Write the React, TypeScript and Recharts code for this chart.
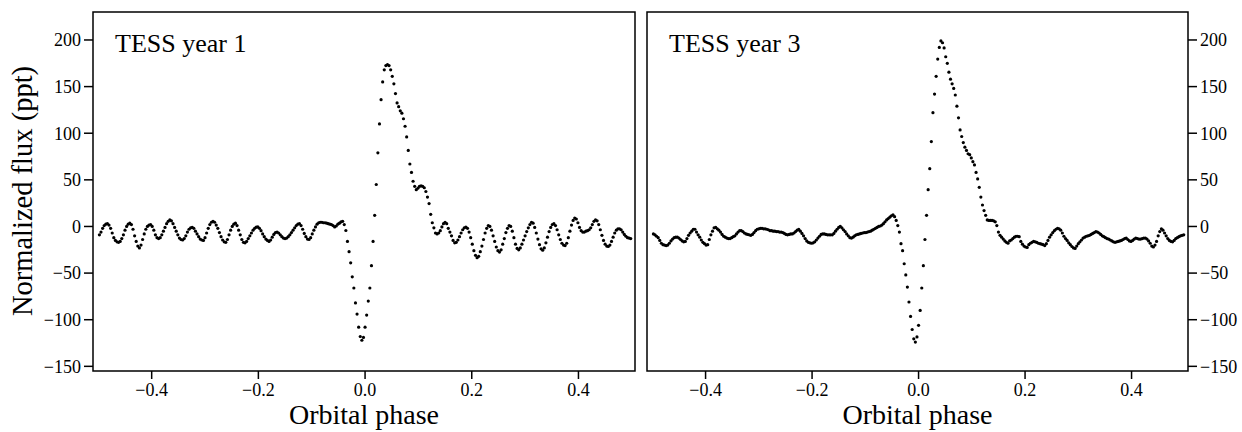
import { ScatterChart, Scatter, XAxis, YAxis, ReferenceArea, Label } from 'recharts'

// phase-folded light curve, bins of 0.003 in orbital phase
const PHASE_START = -0.498
const PHASE_STEP = 0.003

const YEAR1_FLUX = [
  -9, -6, -2, 1, 2.5, 3, 1.5, -2, -7, -12,
  -15, -16.5, -17, -16, -13, -9, -4, 0, 2.5, 3.5,
  2, -3, -10, -16, -21, -23, -20, -14, -8, -3,
  0, 1.5, 2, 0, -4, -9, -12, -13, -12, -9,
  -5, -1, 3, 5.5, 7, 6, 3, -1, -5, -9,
  -12.5, -14, -14.5, -13, -10, -6, -3, -1.5, -1, -2,
  -5, -8, -11, -13.5, -14.5, -15, -12, -7, -2, 2,
  4.5, 5.5, 4.5, 1.5, -2, -6.5, -11, -14.5, -16.5, -17,
  -14, -9, -4, 0, 2.5, 3.5, 1, -4, -9, -14,
  -17, -17.5, -16, -13, -10, -7, -4, -2, -0.8, -0.5,
  -2, -4.5, -8, -11, -13.5, -15, -16, -14.5, -11.5, -8.5,
  -6.5, -6, -7, -9, -11, -12.5, -13, -12.5, -11, -9,
  -6.5, -4, -1.5, 1, 2.5, 3, 1, -3, -7.5, -11,
  -13.5, -14, -12, -8, -4, -0.5, 2.5, 4, 4.5, 4.5,
  4, 4, 3.5, 3, 2.5, 2, 1, -0.5, 0.5, 2.5,
  3.5, 5, 5.5, 2, -4.3, -16, -27, -39, -54, -66,
  -82, -94, -108, -118, -122, -119, -108, -95, -80, -66,
  -42, -16, 12, 45, 79, 110, 136, 155, 168, 172.5,
  173.5, 172.5, 168, 161, 153, 142.5, 132.5, 128.5, 124, 121.5,
  115.5, 107.5, 96, 81.5, 67, 58, 48.5, 43, 39.5, 41,
  43, 43.5, 43, 41.5, 37.5, 31.5, 24.5, 13, 4, -1.5,
  -7, -8, -7, -4.5, -0.5, 3, 4.5, 3, -2, -6,
  -10, -15, -17.5, -17, -14.5, -11, -7, -3.5, -1.5, -0.7,
  -2, -6, -12, -19, -26, -31, -33.5, -32, -27, -21,
  -14, -7, -2, 1, 0, -4, -10, -16, -22, -26,
  -27.5, -25, -19, -13, -6.5, -2, 1, 0, -5, -12,
  -19, -23.5, -25, -23, -19, -14.5, -10, -5.5, -1.5, 2,
  4.5, 3.5, -1, -7, -13.5, -19.5, -24, -25.5, -23, -17.5,
  -11.5, -5.5, -1, 2, 3, 1, -3.5, -9, -14, -18,
  -20, -20.5, -18, -12, -5, 1.5, 6.5, 9, 8, 4,
  -1, -4.5, -6, -6, -5, -4.5, -3.5, -1.5, 2, 5.5,
  7, 6, 2, -3.5, -9.5, -15, -19, -21, -21.5, -20,
  -16, -11.5, -7, -4, -2.5, -2.5, -3.5, -6, -8.5, -10.5,
  -12, -12.5, -13,
]

const YEAR3_FLUX = [
  -8, -9, -10.5, -12, -15, -18, -19.5, -20, -20.5, -20,
  -18, -15.5, -13.5, -12, -11.5, -11.5, -12.5, -14, -15.5, -16.5,
  -16, -13, -9.5, -7, -5, -3, -3, -6, -9, -11.5,
  -14.5, -17, -18.5, -20, -19.5, -14, -9, -5, -1.5, -1,
  -2.5, -4, -6, -8.5, -10.5, -11.5, -12.5, -13, -13, -12,
  -11, -10, -8, -6, -4.5, -4.5, -5.5, -7, -8, -8.5,
  -9, -9.5, -8.5, -6.5, -4.5, -3, -2.5, -2, -2, -2.5,
  -2.5, -3, -3.5, -4.5, -4.5, -5, -5, -5.5, -5.5, -6,
  -6, -6.5, -7.5, -8.5, -9, -8.5, -8, -8, -7, -5.5,
  -4, -3.2, -5, -7.5, -10, -13, -15.5, -17, -17.5, -18,
  -17.5, -16.5, -14.5, -12.5, -10.5, -8.5, -8, -8, -8.5, -9,
  -9, -9, -9, -7.5, -5, -3, -1, 0, -1.5, -3.5,
  -5.5, -8, -10, -12, -12.5, -11.5, -10, -9, -8.5, -8,
  -7.5, -7, -6.5, -6.5, -6, -5.5, -5, -4, -3, -2,
  -1, 0, 0.5, 1.5, 3, 5, 7, 8.5, 10, 11.5,
  12.5, 10.5, 6.5, 1, -6, -18.5, -26, -40, -52, -65,
  -81, -96.5, -110.5, -120.5, -124, -118.5, -106, -90, -66, -42,
  -14, 12, 39.5, 62, 91, 122, 142, 161, 179.5, 192,
  199, 197, 191.5, 182, 175, 165.5, 158, 153, 148, 141,
  129, 116.5, 103.5, 96.5, 90, 85, 81.5, 78, 77, 73.5,
  69.5, 66, 58, 51, 42, 31.5, 23, 17, 12, 7,
  6.5, 6.5, 6.5, 6, 5, 1, -6, -9.5, -11.5, -13.5,
  -15.5, -17, -18, -15.5, -14.5, -13, -11.5, -10.5, -10.5, -11,
  -16, -19, -21, -22, -22.5, -19.5, -18, -17, -16, -16.5,
  -17, -18, -18.5, -19, -19.5, -20.5, -18.5, -15, -11.5, -9,
  -6.5, -4.5, -3, -2, -2.5, -4, -7, -10.5, -13, -15,
  -17.5, -19.5, -21.5, -23, -23.5, -21, -18.5, -16.5, -14.5, -12.5,
  -11.5, -10.5, -10, -9.5, -8.5, -7.5, -6.5, -5.5, -6, -7,
  -8.5, -10, -11, -12, -13, -13.5, -14.5, -15.5, -16.5, -17,
  -16.5, -16, -15.5, -15, -14, -13, -12.5, -14, -15.5, -16,
  -15, -13.5, -12.5, -13, -13.5, -13.5, -13, -12.5, -12.5, -13.5,
  -15.5, -18, -21, -22, -20, -16, -10, -5.5, -2.5, -4,
  -7, -10, -13, -15, -16, -16.5, -15, -13, -12, -11,
  -10, -9.5, -9,
]

const X_TICKS = [-0.4, -0.2, 0, 0.2, 0.4]
const Y_TICKS = [-150, -100, -50, 0, 50, 100, 150, 200]
const X_DOMAIN: [number, number] = [-0.51, 0.506]
const Y_DOMAIN: [number, number] = [-155, 230]

const FONT = '"Liberation Serif", "Times New Roman", serif'

const toPoints = (flux: number[]) =>
  flux.map((y, i) => ({ x: PHASE_START + i * PHASE_STEP, y }))

const minus = (s: string) => s.replace('-', '\u2212')
const fmtX = (v: number) => minus(v.toFixed(1))
const fmtY = (v: number) => minus(String(v))

// eslint-disable-next-line @typescript-eslint/no-explicit-any
function Dot(props: any) {
  return <circle cx={props.cx} cy={props.cy} r={1.6} fill="#000" />
}

// eslint-disable-next-line @typescript-eslint/no-explicit-any
function XTick({ x, y, payload }: any) {
  return (
    <text x={x} y={y} dy="0.71em" textAnchor="middle" fontSize={18} fontFamily={FONT} fill="#000">
      {fmtX(payload.value)}
    </text>
  )
}

// eslint-disable-next-line @typescript-eslint/no-explicit-any
function YTick({ x, y, payload, textAnchor }: any) {
  return (
    <text x={x} y={y} dy="0.355em" textAnchor={textAnchor} fontSize={18} fontFamily={FONT} fill="#000">
      {fmtY(payload.value)}
    </text>
  )
}

function YTitle() {
  return (
    <text
      x={32}
      y={191}
      transform="rotate(-90 32 191)"
      textAnchor="middle"
      fontSize={28.5}
      fontFamily={FONT}
      fill="#000"
    >
      Normalized flux (ppt)
    </text>
  )
}

const tickLine = { stroke: '#000', strokeWidth: 1.5 }

function Panel({ flux, title, side }: { flux: number[]; title: string; side: 'left' | 'right' }) {
  const isLeft = side === 'left'
  return (
    <ScatterChart
      width={isLeft ? 640 : 602}
      height={432}
      margin={isLeft ? { top: 12, right: 5, bottom: 0, left: 0 } : { top: 12, right: 0, bottom: 0, left: 7 }}
    >
      <XAxis
        type="number"
        dataKey="x"
        domain={X_DOMAIN}
        ticks={X_TICKS}
        allowDataOverflow
        height={61}
        axisLine={false}
        tickLine={tickLine}
        tickSize={8}
        tickMargin={4}
        tick={XTick}
        interval={0}
        label={{ value: 'Orbital phase', position: 'insideBottom', offset: 8, fontSize: 28, fontFamily: FONT, fill: '#000' }}
      />
      <YAxis
        type="number"
        dataKey="y"
        orientation={side}
        domain={Y_DOMAIN}
        ticks={Y_TICKS}
        allowDataOverflow
        width={isLeft ? 93 : 54}
        axisLine={false}
        tickLine={tickLine}
        tickSize={9}
        tickMargin={3}
        tick={YTick}
        interval={0}
        label={isLeft ? <Label content={YTitle} /> : undefined}
      />
      <ReferenceArea
        x1={X_DOMAIN[0]}
        x2={X_DOMAIN[1]}
        y1={Y_DOMAIN[0]}
        y2={Y_DOMAIN[1]}
        fill="none"
        fillOpacity={0}
        stroke="#000"
        strokeWidth={1.5}
        label={{ value: title, position: 'insideTopLeft', offset: 22, fontSize: 26, fontFamily: FONT, fill: '#000' }}
      />
      <Scatter data={toPoints(flux)} shape={Dot} isAnimationActive={false} />
    </ScatterChart>
  )
}

export default function App() {
  return (
    <div style={{ position: 'absolute', left: 0, top: 0, width: 1242, height: 432, background: '#fff', overflow: 'hidden', fontFamily: FONT }}>
      <div style={{ position: 'absolute', left: 0, top: 0 }}>
        <Panel flux={YEAR1_FLUX} title="TESS year 1" side="left" />
      </div>
      <div style={{ position: 'absolute', left: 640, top: 0 }}>
        <Panel flux={YEAR3_FLUX} title="TESS year 3" side="right" />
      </div>
    </div>
  )
}
